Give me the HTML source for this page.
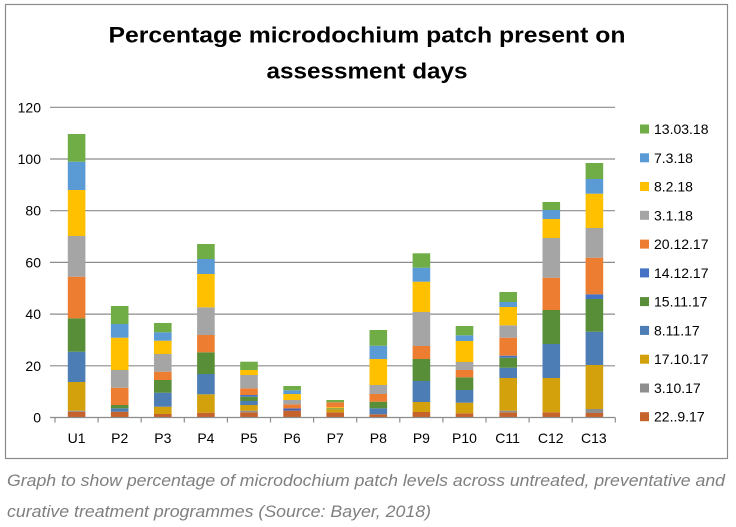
<!DOCTYPE html>
<html><head><meta charset="utf-8"><style>
html,body{margin:0;padding:0;background:#fff;}
svg{display:block;}
</style></head><body>
<svg width="736" height="527" viewBox="0 0 736 527" xmlns="http://www.w3.org/2000/svg" font-family="'Liberation Sans', Arial, sans-serif">
<rect x="0" y="0" width="736" height="527" fill="#fff"/>
<rect x="5.5" y="4.5" width="722" height="454" fill="#fff" stroke="#8a8a8a" stroke-width="1.2"/>
<text x="367" y="42.3" font-size="22" font-weight="bold" text-anchor="middle" textLength="517" lengthAdjust="spacingAndGlyphs" fill="#000">Percentage microdochium patch present on</text>
<text x="367" y="78.3" font-size="22" font-weight="bold" text-anchor="middle" textLength="201" lengthAdjust="spacingAndGlyphs" fill="#000">assessment days</text>
<g stroke="#8c8c8c" stroke-width="1.2">
<line x1="50" y1="107.3" x2="615" y2="107.3"/>
<line x1="50" y1="159.0" x2="615" y2="159.0"/>
<line x1="50" y1="210.7" x2="615" y2="210.7"/>
<line x1="50" y1="262.4" x2="615" y2="262.4"/>
<line x1="50" y1="314.1" x2="615" y2="314.1"/>
<line x1="50" y1="365.8" x2="615" y2="365.8"/>
</g>
<g font-size="14" fill="#000" text-anchor="end">
<text x="41" y="112.3">120</text>
<text x="41" y="164">100</text>
<text x="41" y="215.7">80</text>
<text x="41" y="267.4">60</text>
<text x="41" y="319.1">40</text>
<text x="41" y="370.8">20</text>
<text x="41" y="422.5">0</text>
</g>
<g>
<!-- U1 -->
<rect x="67.8" y="411.7" width="17.6" height="5.8" fill="#C6622C"/>
<rect x="67.8" y="410.7" width="17.6" height="1" fill="#8E8E8E"/>
<rect x="67.8" y="382" width="17.6" height="28.7" fill="#D3A10C"/>
<rect x="67.8" y="351.7" width="17.6" height="30.3" fill="#4C7DB4"/>
<rect x="67.8" y="318.3" width="17.6" height="33.4" fill="#578E37"/>
<rect x="67.8" y="276.7" width="17.6" height="41.6" fill="#ED7D31"/>
<rect x="67.8" y="236" width="17.6" height="40.7" fill="#A5A5A5"/>
<rect x="67.8" y="190" width="17.6" height="46" fill="#FFC000"/>
<rect x="67.8" y="161.7" width="17.6" height="28.3" fill="#5B9BD5"/>
<rect x="67.8" y="134" width="17.6" height="27.7" fill="#70AD47"/>
<!-- P2 -->
<rect x="110.9" y="411.7" width="17.6" height="5.8" fill="#C6622C"/>
<rect x="110.9" y="408.3" width="17.6" height="3.4" fill="#4C7DB4"/>
<rect x="110.9" y="405" width="17.6" height="3.3" fill="#578E37"/>
<rect x="110.9" y="387.7" width="17.6" height="17.3" fill="#ED7D31"/>
<rect x="110.9" y="370" width="17.6" height="17.7" fill="#A5A5A5"/>
<rect x="110.9" y="337.7" width="17.6" height="32.3" fill="#FFC000"/>
<rect x="110.9" y="324" width="17.6" height="13.7" fill="#5B9BD5"/>
<rect x="110.9" y="306" width="17.6" height="18" fill="#70AD47"/>
<!-- P3 -->
<rect x="154.0" y="414" width="17.6" height="3.5" fill="#C6622C"/>
<rect x="154.0" y="406.7" width="17.6" height="7.3" fill="#D3A10C"/>
<rect x="154.0" y="392.7" width="17.6" height="14" fill="#4C7DB4"/>
<rect x="154.0" y="380" width="17.6" height="12.7" fill="#578E37"/>
<rect x="154.0" y="371.7" width="17.6" height="8.3" fill="#ED7D31"/>
<rect x="154.0" y="354" width="17.6" height="17.7" fill="#A5A5A5"/>
<rect x="154.0" y="340.7" width="17.6" height="13.3" fill="#FFC000"/>
<rect x="154.0" y="332.3" width="17.6" height="8.4" fill="#5B9BD5"/>
<rect x="154.0" y="323" width="17.6" height="9.3" fill="#70AD47"/>
<!-- P4 -->
<rect x="197.1" y="412.7" width="17.6" height="4.8" fill="#C6622C"/>
<rect x="197.1" y="394.3" width="17.6" height="18.4" fill="#D3A10C"/>
<rect x="197.1" y="374" width="17.6" height="20.3" fill="#4C7DB4"/>
<rect x="197.1" y="352.3" width="17.6" height="21.7" fill="#578E37"/>
<rect x="197.1" y="335" width="17.6" height="17.3" fill="#ED7D31"/>
<rect x="197.1" y="307.3" width="17.6" height="27.7" fill="#A5A5A5"/>
<rect x="197.1" y="274" width="17.6" height="33.3" fill="#FFC000"/>
<rect x="197.1" y="259" width="17.6" height="15" fill="#5B9BD5"/>
<rect x="197.1" y="244" width="17.6" height="15" fill="#70AD47"/>
<!-- P5 -->
<rect x="240.2" y="412.3" width="17.6" height="5.2" fill="#C6622C"/>
<rect x="240.2" y="410.7" width="17.6" height="1.6" fill="#8E8E8E"/>
<rect x="240.2" y="405" width="17.6" height="5.7" fill="#D3A10C"/>
<rect x="240.2" y="401" width="17.6" height="4" fill="#4C7DB4"/>
<rect x="240.2" y="396.7" width="17.6" height="4.3" fill="#578E37"/>
<rect x="240.2" y="395" width="17.6" height="1.7" fill="#4472C4"/>
<rect x="240.2" y="388.3" width="17.6" height="6.7" fill="#ED7D31"/>
<rect x="240.2" y="375" width="17.6" height="13.3" fill="#A5A5A5"/>
<rect x="240.2" y="370" width="17.6" height="5" fill="#FFC000"/>
<rect x="240.2" y="361.7" width="17.6" height="8.3" fill="#70AD47"/>
<!-- P6 -->
<rect x="283.3" y="410.7" width="17.6" height="6.8" fill="#C6622C"/>
<rect x="283.3" y="408.3" width="17.6" height="2.4" fill="#4F5FA8"/>
<rect x="283.3" y="404.3" width="17.6" height="4" fill="#ED7D31"/>
<rect x="283.3" y="400" width="17.6" height="4.3" fill="#A5A5A5"/>
<rect x="283.3" y="394" width="17.6" height="6" fill="#FFC000"/>
<rect x="283.3" y="390.3" width="17.6" height="3.7" fill="#5B9BD5"/>
<rect x="283.3" y="386" width="17.6" height="4.3" fill="#70AD47"/>
<!-- P7 -->
<rect x="326.4" y="412.3" width="17.6" height="5.2" fill="#C6622C"/>
<rect x="326.4" y="409.3" width="17.6" height="3" fill="#D3A10C"/>
<rect x="326.4" y="408.3" width="17.6" height="1" fill="#578E37"/>
<rect x="326.4" y="407.3" width="17.6" height="1" fill="#FFC000"/>
<rect x="326.4" y="402.3" width="17.6" height="5" fill="#ED7D31"/>
<rect x="326.4" y="400" width="17.6" height="2.3" fill="#70AD47"/>
<!-- P8 -->
<rect x="369.5" y="414.3" width="17.6" height="3.2" fill="#C6622C"/>
<rect x="369.5" y="408.3" width="17.6" height="6" fill="#4C7DB4"/>
<rect x="369.5" y="401.7" width="17.6" height="6.6" fill="#578E37"/>
<rect x="369.5" y="394" width="17.6" height="7.7" fill="#ED7D31"/>
<rect x="369.5" y="385" width="17.6" height="9" fill="#A5A5A5"/>
<rect x="369.5" y="359" width="17.6" height="26" fill="#FFC000"/>
<rect x="369.5" y="345.7" width="17.6" height="13.3" fill="#5B9BD5"/>
<rect x="369.5" y="330" width="17.6" height="15.7" fill="#70AD47"/>
<!-- P9 -->
<rect x="412.6" y="412" width="17.6" height="5.5" fill="#C6622C"/>
<rect x="412.6" y="402" width="17.6" height="10" fill="#D3A10C"/>
<rect x="412.6" y="381" width="17.6" height="21" fill="#4C7DB4"/>
<rect x="412.6" y="359" width="17.6" height="22" fill="#578E37"/>
<rect x="412.6" y="346" width="17.6" height="13" fill="#ED7D31"/>
<rect x="412.6" y="312" width="17.6" height="34" fill="#A5A5A5"/>
<rect x="412.6" y="281.7" width="17.6" height="30.3" fill="#FFC000"/>
<rect x="412.6" y="267.7" width="17.6" height="14" fill="#5B9BD5"/>
<rect x="412.6" y="253.3" width="17.6" height="14.4" fill="#70AD47"/>
<!-- P10 -->
<rect x="455.7" y="413.3" width="17.6" height="4.2" fill="#C6622C"/>
<rect x="455.7" y="402.7" width="17.6" height="10.6" fill="#D3A10C"/>
<rect x="455.7" y="390" width="17.6" height="12.7" fill="#4C7DB4"/>
<rect x="455.7" y="377.3" width="17.6" height="12.7" fill="#578E37"/>
<rect x="455.7" y="370" width="17.6" height="7.3" fill="#ED7D31"/>
<rect x="455.7" y="362" width="17.6" height="8" fill="#A5A5A5"/>
<rect x="455.7" y="341" width="17.6" height="21" fill="#FFC000"/>
<rect x="455.7" y="335.3" width="17.6" height="5.7" fill="#5B9BD5"/>
<rect x="455.7" y="326" width="17.6" height="9.3" fill="#70AD47"/>
<!-- C11 -->
<rect x="499.4" y="412.3" width="17.6" height="5.2" fill="#C6622C"/>
<rect x="499.4" y="410.7" width="17.6" height="1.6" fill="#8E8E8E"/>
<rect x="499.4" y="378" width="17.6" height="32.7" fill="#D3A10C"/>
<rect x="499.4" y="367.7" width="17.6" height="10.3" fill="#4C7DB4"/>
<rect x="499.4" y="357.7" width="17.6" height="10" fill="#578E37"/>
<rect x="499.4" y="355.7" width="17.6" height="2" fill="#4472C4"/>
<rect x="499.4" y="337.7" width="17.6" height="18" fill="#ED7D31"/>
<rect x="499.4" y="325.3" width="17.6" height="12.4" fill="#A5A5A5"/>
<rect x="499.4" y="307" width="17.6" height="18.3" fill="#FFC000"/>
<rect x="499.4" y="302" width="17.6" height="5" fill="#5B9BD5"/>
<rect x="499.4" y="292" width="17.6" height="10" fill="#70AD47"/>
<!-- C12 -->
<rect x="542.5" y="412.3" width="17.6" height="5.2" fill="#C6622C"/>
<rect x="542.5" y="378" width="17.6" height="34.3" fill="#D3A10C"/>
<rect x="542.5" y="344" width="17.6" height="34" fill="#4C7DB4"/>
<rect x="542.5" y="310" width="17.6" height="34" fill="#578E37"/>
<rect x="542.5" y="277.7" width="17.6" height="32.3" fill="#ED7D31"/>
<rect x="542.5" y="238" width="17.6" height="39.7" fill="#A5A5A5"/>
<rect x="542.5" y="219" width="17.6" height="19" fill="#FFC000"/>
<rect x="542.5" y="210" width="17.6" height="9" fill="#5B9BD5"/>
<rect x="542.5" y="202" width="17.6" height="8" fill="#70AD47"/>
<!-- C13 -->
<rect x="585.6" y="413" width="17.6" height="4.5" fill="#C6622C"/>
<rect x="585.6" y="409" width="17.6" height="4" fill="#8E8E8E"/>
<rect x="585.6" y="365" width="17.6" height="44" fill="#D3A10C"/>
<rect x="585.6" y="331.7" width="17.6" height="33.3" fill="#4C7DB4"/>
<rect x="585.6" y="299" width="17.6" height="32.7" fill="#578E37"/>
<rect x="585.6" y="294.3" width="17.6" height="4.7" fill="#4472C4"/>
<rect x="585.6" y="257.7" width="17.6" height="36.6" fill="#ED7D31"/>
<rect x="585.6" y="228" width="17.6" height="29.7" fill="#A5A5A5"/>
<rect x="585.6" y="193.7" width="17.6" height="34.3" fill="#FFC000"/>
<rect x="585.6" y="179" width="17.6" height="14.7" fill="#5B9BD5"/>
<rect x="585.6" y="163" width="17.6" height="16" fill="#70AD47"/>
</g>
<g stroke="#8c8c8c" stroke-width="1.2">
<line x1="50" y1="417.5" x2="615.3" y2="417.5"/>
<line x1="55" y1="417.5" x2="55" y2="422.5"/>
<line x1="98.1" y1="417.5" x2="98.1" y2="422.5"/>
<line x1="141.2" y1="417.5" x2="141.2" y2="422.5"/>
<line x1="184.3" y1="417.5" x2="184.3" y2="422.5"/>
<line x1="227.4" y1="417.5" x2="227.4" y2="422.5"/>
<line x1="270.5" y1="417.5" x2="270.5" y2="422.5"/>
<line x1="313.6" y1="417.5" x2="313.6" y2="422.5"/>
<line x1="356.7" y1="417.5" x2="356.7" y2="422.5"/>
<line x1="399.8" y1="417.5" x2="399.8" y2="422.5"/>
<line x1="442.9" y1="417.5" x2="442.9" y2="422.5"/>
<line x1="486" y1="417.5" x2="486" y2="422.5"/>
<line x1="529.1" y1="417.5" x2="529.1" y2="422.5"/>
<line x1="572.2" y1="417.5" x2="572.2" y2="422.5"/>
<line x1="615.3" y1="417.5" x2="615.3" y2="422.5"/>
</g>
<g font-size="14" fill="#000" text-anchor="middle">
<text x="76.6" y="443">U1</text>
<text x="119.7" y="443">P2</text>
<text x="162.8" y="443">P3</text>
<text x="205.9" y="443">P4</text>
<text x="249" y="443">P5</text>
<text x="292.1" y="443">P6</text>
<text x="335.2" y="443">P7</text>
<text x="378.3" y="443">P8</text>
<text x="421.4" y="443">P9</text>
<text x="464.5" y="443">P10</text>
<text x="507.6" y="443">C11</text>
<text x="550.7" y="443">C12</text>
<text x="593.8" y="443">C13</text>
</g>
<g>
<rect x="640" y="124.5" width="9" height="9" fill="#70AD47"/>
<rect x="640" y="153.3" width="9" height="9" fill="#5B9BD5"/>
<rect x="640" y="182" width="9" height="9" fill="#FFC000"/>
<rect x="640" y="210.8" width="9" height="9" fill="#A5A5A5"/>
<rect x="640" y="239.6" width="9" height="9" fill="#ED7D31"/>
<rect x="640" y="268.4" width="9" height="9" fill="#4472C4"/>
<rect x="640" y="297.1" width="9" height="9" fill="#578E37"/>
<rect x="640" y="325.9" width="9" height="9" fill="#4C7DB4"/>
<rect x="640" y="354.7" width="9" height="9" fill="#D3A10C"/>
<rect x="640" y="383.5" width="9" height="9" fill="#8E8E8E"/>
<rect x="640" y="412.2" width="9" height="9" fill="#C6622C"/>
</g>
<g font-size="14" fill="#000">
<text x="654" y="134">13.03.18</text>
<text x="654" y="162.8">7.3.18</text>
<text x="654" y="191.5">8.2.18</text>
<text x="654" y="220.3">3.1.18</text>
<text x="654" y="249.1">20.12.17</text>
<text x="654" y="277.9">14.12.17</text>
<text x="654" y="306.6">15.11.17</text>
<text x="654" y="335.4">8.11.17</text>
<text x="654" y="364.2">17.10.17</text>
<text x="654" y="393">3.10.17</text>
<text x="654" y="421.7">22..9.17</text>
</g>
<g font-size="17" font-style="italic" fill="#7f7f7f">
<text x="7" y="486" textLength="718" lengthAdjust="spacingAndGlyphs">Graph to show percentage of microdochium patch levels across untreated, preventative and</text>
<text x="7" y="517" textLength="424" lengthAdjust="spacingAndGlyphs">curative treatment programmes (Source: Bayer, 2018)</text>
</g>
</svg>
</body></html>
